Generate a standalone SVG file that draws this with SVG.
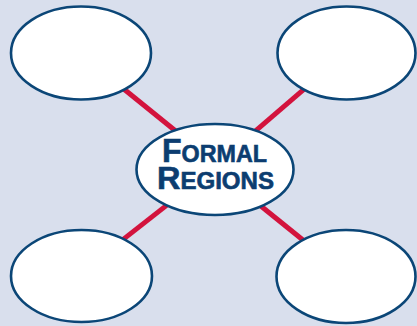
<svg xmlns="http://www.w3.org/2000/svg" width="417" height="326" viewBox="0 0 417 326">
<style>
.bg{fill:#d9dfed}
.node{fill:#ffffff;stroke:#0b4677;stroke-width:2.6}
.link{stroke:#d3133d;stroke-width:5;stroke-linecap:butt}
.lbl{font-family:"Liberation Sans",Arial,sans-serif;font-weight:bold;fill:#0c3d70;stroke:#0c3d70;stroke-width:0.6}
</style>
<rect class="bg" x="0" y="0" width="417" height="326"/>
<g id="connectors">
<line class="link" x1="113" y1="80.3" x2="184" y2="137.7"/>
<line class="link" x1="314" y1="80.7" x2="248" y2="137.3"/>
<line class="link" x1="179" y1="195.6" x2="113" y2="247.4"/>
<line class="link" x1="250" y1="197.3" x2="315" y2="249.7"/>
</g>
<g id="node-top-left"><ellipse class="node" cx="81" cy="53" rx="70" ry="46.5"/></g>
<g id="node-top-right"><ellipse class="node" cx="346.5" cy="53" rx="69" ry="46.5"/></g>
<g id="node-bottom-left"><ellipse class="node" cx="81.5" cy="276" rx="70.5" ry="46"/></g>
<g id="node-bottom-right"><ellipse class="node" cx="346" cy="276.5" rx="69.5" ry="46.5"/></g>
<g id="node-center">
<ellipse class="node" cx="215" cy="169.5" rx="78.5" ry="45.5"/>
<text class="lbl"><tspan x="162" y="162" textLength="105" lengthAdjust="spacingAndGlyphs"><tspan font-size="33">F</tspan><tspan font-size="24">ORMAL</tspan></tspan><tspan x="157" y="188.5" textLength="117" lengthAdjust="spacingAndGlyphs"><tspan font-size="31">R</tspan><tspan font-size="23">EGIONS</tspan></tspan></text>
</g>
</svg>
